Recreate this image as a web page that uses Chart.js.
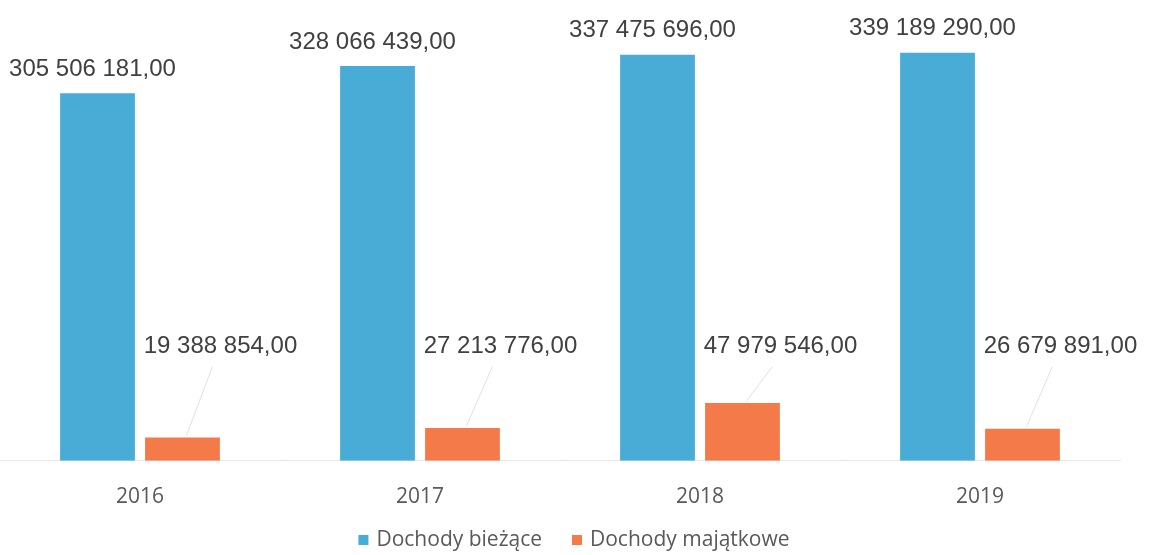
<!DOCTYPE html>
<html>
<head>
<meta charset="utf-8">
<script src="https://cdn.jsdelivr.net/npm/chart.js@4.4.1/dist/chart.umd.min.js"></script>
<style>
  html, body { margin: 0; padding: 0; background: #fff; }
  #wrap { width: 1160px; height: 555px; }
</style>
</head>
<body>
<div id="wrap"><canvas id="chart" width="1160" height="555"></canvas></div>
<script>
const years = ["2016", "2017", "2018", "2019"];
const biezace = [305506181.0, 328066439.0, 337475696.0, 339189290.0];
const majatkowe = [19388854.0, 27213776.0, 47979546.0, 26679891.0];
const seriesNames = ["Dochody bieżące", "Dochody majątkowe"];

const COLORS = { blue: "#48acd6", orange: "#f47a4a", text: "#404040", axis: "#595959" };
const FONT = "'Open Sans', sans-serif";

const fmtPl = (v) => {
  const [i, d] = v.toFixed(2).split(".");
  return i.replace(/\B(?=(\d{3})+(?!\d))/g, " ") + "," + d;
};

// value labels; the orange ones sit higher, with a faint leader line
const labelPlugin = {
  id: "valueLabels",
  afterDatasetsDraw(chart) {
    const { ctx } = chart;
    const y = chart.scales.y;
    ctx.save();
    ctx.font = "24px 'Liberation Sans', Arial, sans-serif";
    ctx.fillStyle = COLORS.text;
    ctx.textAlign = "center";
    ctx.textBaseline = "middle";
    chart.getDatasetMeta(0).data.forEach((bar, i) => {
      ctx.fillText(fmtPl(biezace[i]), bar.x - 5, bar.y - 24);
    });
    const labelY = y.getPixelForValue(95000000);
    chart.getDatasetMeta(1).data.forEach((bar, i) => {
      const lx = bar.x + 38;
      ctx.fillStyle = COLORS.text;
      ctx.fillText(fmtPl(majatkowe[i]), lx, labelY);
      ctx.strokeStyle = "rgba(0,0,0,0.12)";
      ctx.lineWidth = 1;
      ctx.beginPath();
      ctx.moveTo(bar.x + 4, bar.y - 2);
      ctx.lineTo(bar.x + 30, labelY + 20);
      ctx.stroke();
    });
    ctx.restore();
  },
};

// legend drawn by hand so the gap between items can be wider than the row padding
const legendPlugin = {
  id: "bottomLegend",
  afterDraw(chart) {
    const { ctx, width, height } = chart;
    ctx.save();
    ctx.font = `21px ${FONT}`;
    ctx.textBaseline = "middle";
    const box = 10, boxGap = 8, itemGap = 30;
    const items = chart.data.datasets.map((ds) => ({
      text: ds.label,
      color: ds.backgroundColor,
      w: box + boxGap + ctx.measureText(ds.label).width,
    }));
    const total = items.reduce((s, it) => s + it.w, 0) + itemGap * (items.length - 1);
    let x = (width - total) / 2 - 6;
    const cy = height - 15;
    items.forEach((it) => {
      ctx.fillStyle = it.color;
      ctx.fillRect(x, cy - box / 2, box, box);
      ctx.fillStyle = COLORS.axis;
      ctx.fillText(it.text, x + box + boxGap, cy);
      x += it.w + itemGap;
    });
    ctx.restore();
  },
};

new Chart(document.getElementById("chart"), {
  type: "bar",
  data: {
    labels: years,
    datasets: [
      { label: seriesNames[0], data: biezace, backgroundColor: COLORS.blue },
      { label: seriesNames[1], data: majatkowe, backgroundColor: COLORS.orange },
    ],
  },
  options: {
    responsive: false,
    animation: false,
    categoryPercentage: 0.607,
    barPercentage: 0.88,
    layout: { padding: { left: 0, right: 40, top: 0, bottom: 21 } },
    plugins: {
      legend: { display: false },
      tooltip: { enabled: false },
    },
    scales: {
      x: {
        grid: { display: false, drawTicks: false },
        border: { color: "#e6e6e6" },
        ticks: {
          color: COLORS.axis,
          padding: 24,
          font: { family: FONT, size: 21 },
        },
      },
      y: { display: false, min: 0, max: 383000000 },
    },
  },
  plugins: [labelPlugin, legendPlugin],
});
</script>
</body>
</html>
